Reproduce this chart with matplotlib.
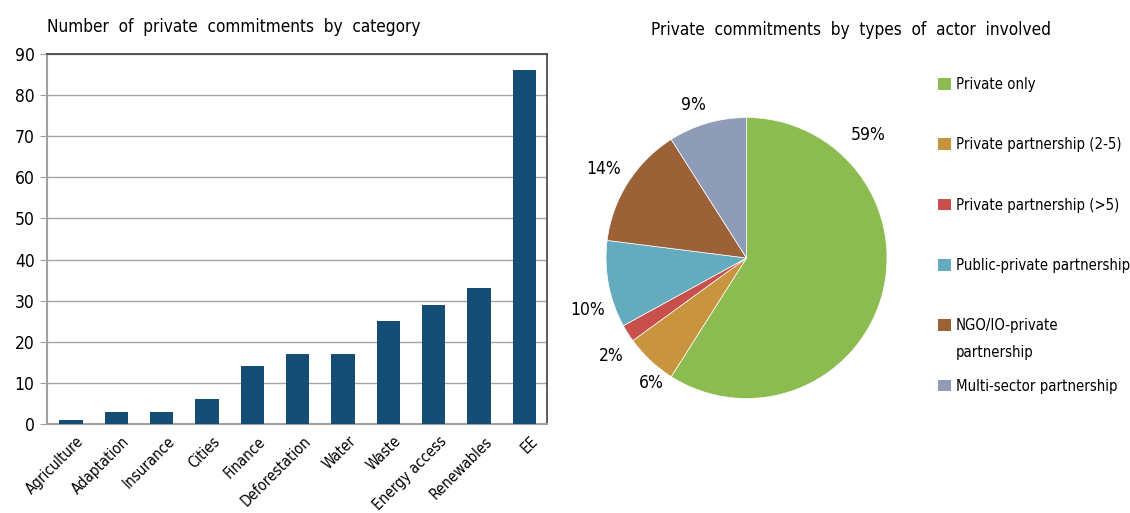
"""
Private commitments: bar chart by category and pie chart by actor type
"""
import numpy as np
import matplotlib
matplotlib.use('Agg')
import matplotlib.pyplot as plt
from matplotlib.patches import Patch

plt.rcParams['font.family'] = ['DejaVu Sans']
plt.rcParams['font.stretch'] = 'condensed'

# Data
categories = ['Agriculture', 'Adaptation', 'Insurance', 'Cities', 'Finance',
              'Deforestation', 'Water', 'Waste', 'Energy access', 'Renewables', 'EE']
commitments = [1, 3, 3, 6, 14, 17, 17, 25, 29, 33, 86]

actor_types = ['Private only', 'Private partnership (2-5)', 'Private partnership (>5)',
               'Public-private partnership', 'NGO/IO-private', 'Multi-sector partnership']
actor_shares = [59, 6, 2, 10, 14, 9]
actor_colors = ['#8cbb4f', '#c9943e', '#c84f4b', '#65abbe', '#9b6137', '#8e9cb8']

BAR_COLOR = '#154d74'

# where Excel put the percentage labels (angle in degrees, distance in radii)
label_angle = [45.3, 232.6, 216, 198, 148, 109]
label_dist = [1.23, 1.12, 1.19, 1.19, 1.2, 1.15]

fig = plt.figure(figsize=(11.3, 5.13), dpi=100)

# ---- bar chart ----
ax = fig.add_axes([47 / 1130, 1 - 424 / 513, 500 / 1130, 370 / 513])
x = np.arange(len(categories))
ax.bar(x, commitments, width=0.52, color=BAR_COLOR, zorder=3)
ax.set_xlim(-0.53, len(categories) - 0.5)
ax.set_ylim(0, 90)
ax.set_yticks(range(0, 91, 10))
ax.yaxis.grid(True, color='#a6a6a6', linewidth=1, zorder=0)
ax.set_xticks(x + 0.12)
ax.set_xticklabels(categories, rotation=45, ha='right', rotation_mode='anchor', fontsize=10.8)
ax.tick_params(axis='x', length=0, pad=7)
ax.tick_params(axis='y', length=5, color='#a0a0a0', labelsize=12.5, pad=4)
for side in ['left', 'bottom']:
    ax.spines[side].set_color('#a0a0a0')
    ax.spines[side].set_linewidth(1.5)
for side in ['top', 'right']:
    ax.spines[side].set_color('#404040')
    ax.spines[side].set_linewidth(1.2)
fig.text(47 / 1130, 1 - 27 / 513, 'Number  of  private  commitments  by  category',
         fontsize=12.3, ha='left', va='center')

# ---- pie chart ----
pax = fig.add_axes([(746.5 - 140.5) / 1130, 1 - (258 + 140.5) / 513, 281 / 1130, 281 / 513])
wedges, _ = pax.pie(actor_shares, colors=actor_colors, startangle=90, counterclock=False,
                    wedgeprops=dict(edgecolor='white', linewidth=0.5))
pax.set_xlim(-1, 1)
pax.set_ylim(-1, 1)

for share, a, d in zip(actor_shares, label_angle, label_dist):
    t = np.deg2rad(a)
    pax.text(d * np.cos(t), d * np.sin(t), f'{share}%',
             ha='center', va='center', fontsize=12.5)

fig.text(851 / 1130, 1 - 30 / 513, 'Private  commitments  by  types  of  actor  involved',
         fontsize=12.3, ha='center', va='center')

handles = [Patch(facecolor=c, edgecolor='none') for c in actor_colors]
leg = fig.legend(handles, actor_types, loc='upper left', bbox_to_anchor=(932 / 1130, 1 - 71 / 513),
                 frameon=False, fontsize=10.7, handlelength=0.85, handleheight=0.85,
                 handletextpad=0.35, labelspacing=3.05, borderaxespad=0)

# second line of the wrapped NGO entry, hanging below the first one
ngo_text = leg.get_texts()[4]
fig.canvas.draw()
bb = ngo_text.get_window_extent()
fig.text(bb.x0, bb.y0 - 27, 'partnership', fontsize=10.7, ha='left', va='bottom',
         transform=None)

fig.savefig('out.png', dpi=100)
